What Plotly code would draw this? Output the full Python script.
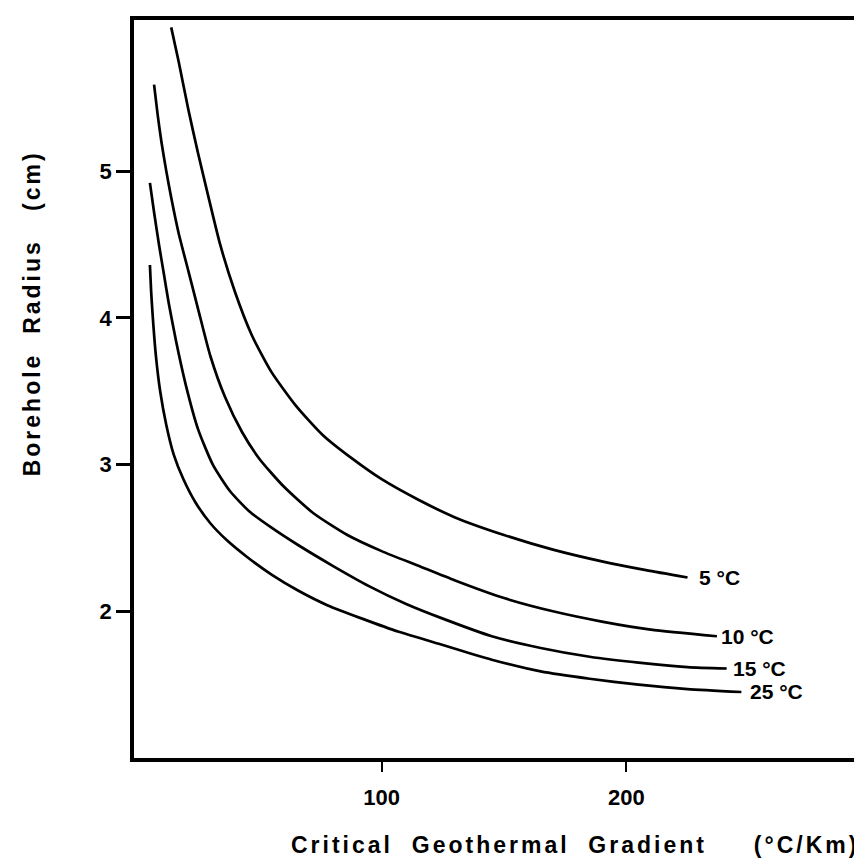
import plotly.graph_objects as go

# Critical geothermal gradient (°C/Km) vs borehole radius (cm)
x5 = [14, 17, 21, 25, 29, 34, 40, 47, 55, 65, 76, 88, 100, 115, 130, 150, 170, 190, 208, 225]
y5 = [5.98, 5.75, 5.42, 5.12, 4.84, 4.50, 4.18, 3.88, 3.63, 3.40, 3.20, 3.04, 2.90, 2.76, 2.64, 2.52, 2.42, 2.34, 2.28, 2.23]

x10 = [7, 8.5, 10, 12, 14, 17, 21, 25, 30, 36, 43, 50, 60, 72, 86, 100, 115, 130, 150, 170, 190, 210, 237]
y10 = [5.59, 5.38, 5.20, 5.00, 4.82, 4.58, 4.32, 4.06, 3.74, 3.46, 3.22, 3.04, 2.85, 2.67, 2.52, 2.41, 2.31, 2.21, 2.09, 2.00, 1.93, 1.875, 1.83]

x15 = [5.3, 7, 9, 11, 13, 16, 20, 25, 31, 38, 46, 55, 66, 80, 95, 110, 125, 145, 165, 185, 205, 225, 241]
y15 = [4.92, 4.72, 4.50, 4.30, 4.10, 3.84, 3.54, 3.24, 3.00, 2.82, 2.68, 2.57, 2.45, 2.31, 2.17, 2.05, 1.95, 1.83, 1.75, 1.69, 1.65, 1.62, 1.61]

x25 = [5.3, 5.8, 6.5, 7.7, 9.5, 12, 15, 19, 24, 30, 37, 45, 55, 66, 78, 92, 107, 125, 145, 165, 185, 205, 225, 247]
y25 = [4.36, 4.18, 4.00, 3.75, 3.50, 3.27, 3.07, 2.90, 2.74, 2.60, 2.48, 2.37, 2.25, 2.14, 2.04, 1.95, 1.86, 1.77, 1.67, 1.59, 1.54, 1.50, 1.47, 1.45]

series = [
    ("5 °C", x5, y5, 9),
    ("10 °C", x10, y10, 2),
    ("15 °C", x15, y15, 4),
    ("25 °C", x25, y25, 7),
]

x_ticks = [100, 200]
x_tick_text = ["100", "200"]
y_ticks = [2, 3, 4, 5]
y_tick_text = ["2", "3", "4", "5"]

NB = "\u00a0"
x_title = "Critical" + NB * 2 + "Geothermal" + NB * 2 + "Gradient" + NB * 5 + "(°C/Km)"
y_title = "Borehole" + NB * 2 + "Radius" + NB * 3 + "(cm)"

FONT = "Liberation Sans, Arial, Helvetica, sans-serif"

fig = go.Figure()
annotations = []
for name, xs, ys, gap in series:
    fig.add_trace(go.Scatter(
        x=xs, y=ys, mode="lines", name=name,
        line=dict(color="black", width=2.7, shape="spline", smoothing=0.6),
        showlegend=False, hoverinfo="skip",
    ))
    annotations.append(dict(
        x=xs[-1], y=ys[-1], xref="x", yref="y",
        text=name, showarrow=False, xanchor="left", yanchor="middle",
        xshift=gap, font=dict(family=FONT, size=21, color="black", weight="bold"),
    ))

annotations.append(dict(
    x=0.997, y=-0.118, xref="paper", yref="paper",
    text='<span style="letter-spacing:3px">' + x_title + '</span>',
    showarrow=False, xanchor="right", yanchor="middle",
    font=dict(family=FONT, size=23, color="black", weight="bold"),
))
annotations.append(dict(
    x=-0.1405, y=0.602, xref="paper", yref="paper",
    text='<span style="letter-spacing:3px">' + y_title + '</span>',
    showarrow=False, xanchor="center", yanchor="middle", textangle=-90,
    font=dict(family=FONT, size=23, color="black", weight="bold"),
))

fig.update_layout(
    width=862, height=860,
    margin=dict(l=126, r=3, t=12, b=110),
    paper_bgcolor="white", plot_bgcolor="white",
    annotations=annotations,
    xaxis=dict(
        range=[-1.2, 296.7], showgrid=False, zeroline=False,
        showline=True, mirror=True, linewidth=3.5, linecolor="black",
        ticks="outside", ticklen=10, tickwidth=2, tickcolor="black",
        tickvals=x_ticks, ticktext=x_tick_text, ticklabelstandoff=7,
        tickfont=dict(family=FONT, size=22, color="black", weight="bold"),
    ),
    yaxis=dict(
        range=[1.0, 6.03], showgrid=False, zeroline=False,
        showline=True, mirror=True, linewidth=3.5, linecolor="black",
        ticks="outside", ticklen=14, tickwidth=3, tickcolor="black",
        tickvals=y_ticks, ticktext=y_tick_text,
        tickfont=dict(family=FONT, size=22, color="black", weight="bold"),
    ),
)

fig.write_html("out.html")
